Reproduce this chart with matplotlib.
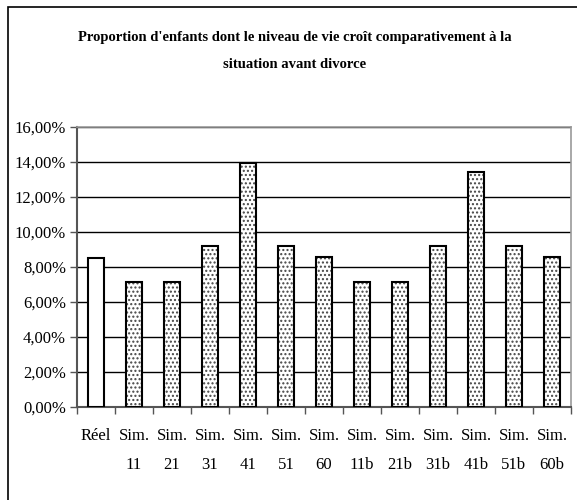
import matplotlib
matplotlib.use("Agg")
import matplotlib.pyplot as plt
from matplotlib.ticker import FuncFormatter, MultipleLocator
from matplotlib.patches import Rectangle

categories = ["Réel", "Sim.\n11", "Sim.\n21", "Sim.\n31", "Sim.\n41", "Sim.\n51", "Sim.\n60",
              "Sim.\n11b", "Sim.\n21b", "Sim.\n31b", "Sim.\n41b", "Sim.\n51b", "Sim.\n60b"]
values = [8.50, 7.15, 7.15, 9.20, 13.95, 9.20, 8.55, 7.15, 7.15, 9.20, 13.45, 9.20, 8.55]
title = "Proportion d'enfants dont le niveau de vie croît comparativement à la\nsituation avant divorce"

plt.rcParams['font.family'] = ['Liberation Serif', 'DejaVu Serif']
plt.rcParams['hatch.linewidth'] = 1.0

fig = plt.figure(figsize=(5.77, 5.0), dpi=100)
fig.patches.append(Rectangle((8/577, -0.1), 1.2, (1 - 7/500) + 0.1, transform=fig.transFigure,
                             fill=False, edgecolor='black', linewidth=1.2))
ax = fig.add_axes([77/577, 1 - 407/500, (571 - 77)/577, (407 - 127)/500])

x = list(range(len(categories)))
for i, v in enumerate(values):
    if i > 0:
        ax.bar(i, v, width=0.4, facecolor='white', edgecolor='#444444', linewidth=0,
               hatch='....', zorder=3)
        ax.bar(i, v, width=0.4, fill=False, edgecolor='black', linewidth=1.5, zorder=4)
    else:
        ax.bar(i, v, width=0.4, facecolor='white', edgecolor='black', linewidth=1.5, zorder=4)

ax.set_xlim(-0.5, len(categories) - 0.5)
ax.set_ylim(0, 16)
ax.yaxis.set_major_locator(MultipleLocator(2))
ax.yaxis.set_major_formatter(FuncFormatter(lambda v, p: f"{v:.2f}%".replace('.', ',')))
ax.yaxis.grid(True, color='black', linewidth=1.0, zorder=0)
ax.set_axisbelow(True)

ax.set_xticks([i + 0.5 for i in range(-1, len(categories))])
ax.set_xticklabels([])
ax.set_xticks(x, minor=True)
ax.set_xticklabels(categories, minor=True, fontsize=12, linespacing=2.1, va='top')
ax.tick_params(axis='x', which='minor', length=0, pad=15)
ax.tick_params(axis='x', which='major', length=5, width=1, color='#555555', direction='out')
ax.tick_params(axis='y', length=5, width=1, color='#555555', labelsize=12, pad=3)

for s in ['top', 'right']:
    ax.spines[s].set_color('#999999')
    ax.spines[s].set_linewidth(1.2)
for s in ['left', 'bottom']:
    ax.spines[s].set_color('#555555')
    ax.spines[s].set_linewidth(1.5)

fig.text(295/577, 1 - 51/500, title, ha='center', va='center', fontsize=10.5,
         fontweight='bold', linespacing=2.4)

fig.savefig("out.png", dpi=100)
